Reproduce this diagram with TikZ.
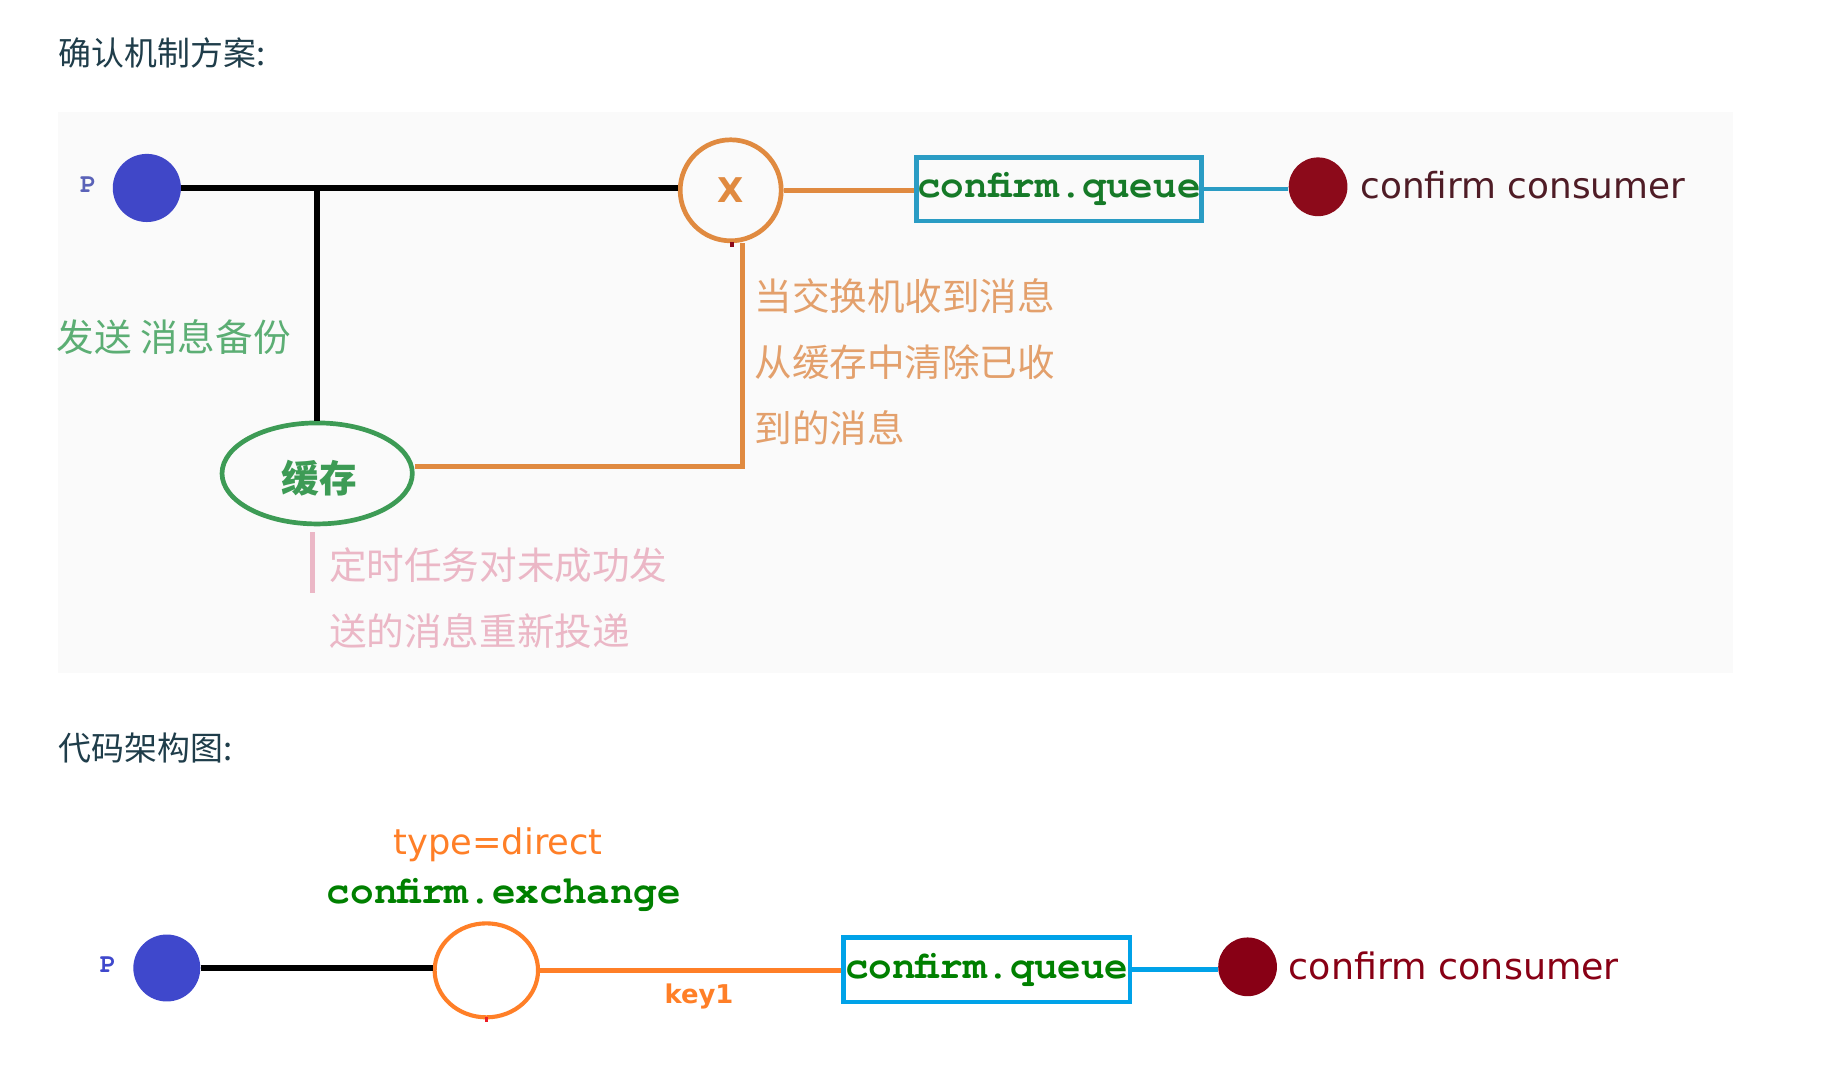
\documentclass[tikz,border=0pt]{standalone}
\usepackage{fontspec}
\setmainfont{DejaVu Sans}
\newfontfamily\cjk{Noto Sans CJK SC}
\newfontfamily\monof{TeX Gyre Cursor}
\usetikzlibrary{shapes.geometric}
\definecolor{titlec}{HTML}{1F3D4A}
\definecolor{panelc}{HTML}{FAFAFA}
\definecolor{pblueA}{HTML}{4047C8}
\definecolor{pblueB}{HTML}{3F48CC}
\definecolor{plabA}{HTML}{5A62B8}
\definecolor{xorange}{HTML}{E08A40}
\definecolor{xtext}{HTML}{E3A06C}
\definecolor{qblueA}{HTML}{2A9CC4}
\definecolor{qblueB}{HTML}{00A2E8}
\definecolor{monogA}{HTML}{167A28}
\definecolor{monogB}{HTML}{008000}
\definecolor{consA}{HTML}{8C0A1A}
\definecolor{constA}{HTML}{4F1C26}
\definecolor{consB}{HTML}{880015}
\definecolor{cacheg}{HTML}{3D9B55}
\definecolor{sendg}{HTML}{5CAE74}
\definecolor{pinkc}{HTML}{EBB7C6}
\definecolor{orB}{HTML}{FF7F27}
\definecolor{reddot}{HTML}{ED1C24}
\tikzset{
  titletext/.style={anchor=west, text=titlec, font=\cjk\fontsize{28}{32}\selectfont, inner sep=0},
  plabel/.style={font=\monof\bfseries\fontsize{23}{26}\selectfont, inner sep=0},
  pdot/.style={circle, minimum size=#1, inner sep=0},
  qbox/.style={draw, line width=4pt, rectangle, minimum width=243, minimum height=54, inner sep=0, font=\monof\bfseries\fontsize{33.5}{38}\selectfont},
  monotext/.style={font=\monof\bfseries\fontsize{33.5}{38}\selectfont, inner sep=0},
  constext/.style={anchor=west, font=\fontsize{31}{36}\selectfont, inner sep=0},
  cjknote/.style={anchor=west, font=\cjk\fontsize{32}{38}\selectfont, inner sep=0},
  wire/.style={line width=4pt},
  bwire/.style={line width=5pt, black}
}
\begin{document}
\begin{tikzpicture}[x=1pt,y=1pt]
\useasboundingbox (0,0) rectangle (1568,-918);
\fill[white] (0,0) rectangle (1568,-918);
\fill[panelc] (49,-95) rectangle (1475,-573);

% ---------- titles
\node[titletext] (t1) at (50,-45) {确认机制方案:};
\node[titletext] (t2) at (50,-637) {代码架构图:};

% ---------- top diagram
\node[plabel, text=plabA] (pl1) at (75,-157) {P};
\node[pdot=58, fill=pblueA] (p1) at (125,-160) {};
\node[circle, draw=xorange, line width=4pt, minimum size=86, inner sep=0,
      text=xorange, font=\bfseries\fontsize{29}{34}\selectfont] (x1) at (622,-162) {X};
\node[qbox, draw=qblueA, text=monogA] (q1) at (901.5,-161) {confirm.queue};
\node[pdot=50, fill=consA] (c1) at (1122,-159) {};
\node[constext, text=constA, font=\fontsize{30.5}{36}\selectfont] (ct1) at (1158,-158) {confirm consumer};
\node[ellipse, draw=cacheg, line width=4pt, minimum width=162, minimum height=86, inner sep=0] (cache) at (270,-403) {};
\node[text=cacheg, font=\cjk\bfseries\fontsize{32}{38}\selectfont, inner sep=0] (cachet) at (272,-407) {缓存};

\coordinate (j1) at (270,-160);
\coordinate (k1) at (632,-397);
\coordinate (pk) at (266,-505);

\draw[bwire] (p1.east) -- (p1.east -| x1.west);
\draw[bwire] (j1) -- (cache.north);
\draw[wire, xorange] (x1.east) -- (x1.east -| q1.west);
\draw[wire, qblueA] (q1.east) -- (q1.east -| c1.west);
\draw[wire, xorange] (x1.south -| k1) -- (k1) -- (cache.east |- k1);
\fill[consA] ([xshift=-1,yshift=1]x1.south) rectangle ([xshift=3,yshift=-3]x1.south);
\draw[wire, pinkc] ([yshift=-5]cache.south -| pk) -- (pk);

\node[cjknote, text=xtext] (n1) at (642,-252) {当交换机收到消息};
\node[cjknote, text=xtext] (n2) at (642,-308) {从缓存中清除已收};
\node[cjknote, text=xtext] (n3) at (642,-364) {到的消息};
\node[cjknote, text=sendg] (s1) at (48,-287) {发送 消息备份};
\node[cjknote, text=pinkc] (r1) at (280,-481) {定时任务对未成功发};
\node[cjknote, text=pinkc] (r2) at (280,-537) {送的消息重新投递};

% ---------- bottom diagram
\node[plabel, text=pblueB] (pl2) at (92,-821) {P};
\node[pdot=57, fill=pblueB] (p2) at (142,-824) {};
\node[ellipse, draw=orB, line width=3.5pt, minimum width=88, minimum height=80, inner sep=0] (e2) at (414,-826) {};
\node[inner sep=0, text=orB, font=\fontsize{30}{34}\selectfont] (ty) at (424,-719) {type=direct};
\node[monotext, text=monogB] (ex) at (429,-762) {confirm.exchange};
\node[qbox, draw=qblueB, text=monogB, minimum width=244, minimum height=55] (q2) at (840,-825.5) {confirm.queue};
\node[pdot=50, fill=consB] (c2) at (1062,-823) {};
\node[constext, text=consB] (ct2) at (1097,-822) {confirm consumer};

\draw[bwire] (p2.east) -- (p2.east -| e2.west);
\draw[wire, orB] (e2.east) -- (e2.east -| q2.west);
\node[inner sep=0, text=orB, font=\bfseries\fontsize{22}{26}\selectfont] (k) at (595,-848) {key1};
\draw[wire, qblueB] (q2.east) -- (q2.east -| c2.west);
\fill[reddot] ([xshift=-1.5,yshift=2]e2.south) rectangle ([xshift=1.5,yshift=-2]e2.south);
\end{tikzpicture}
\end{document}
